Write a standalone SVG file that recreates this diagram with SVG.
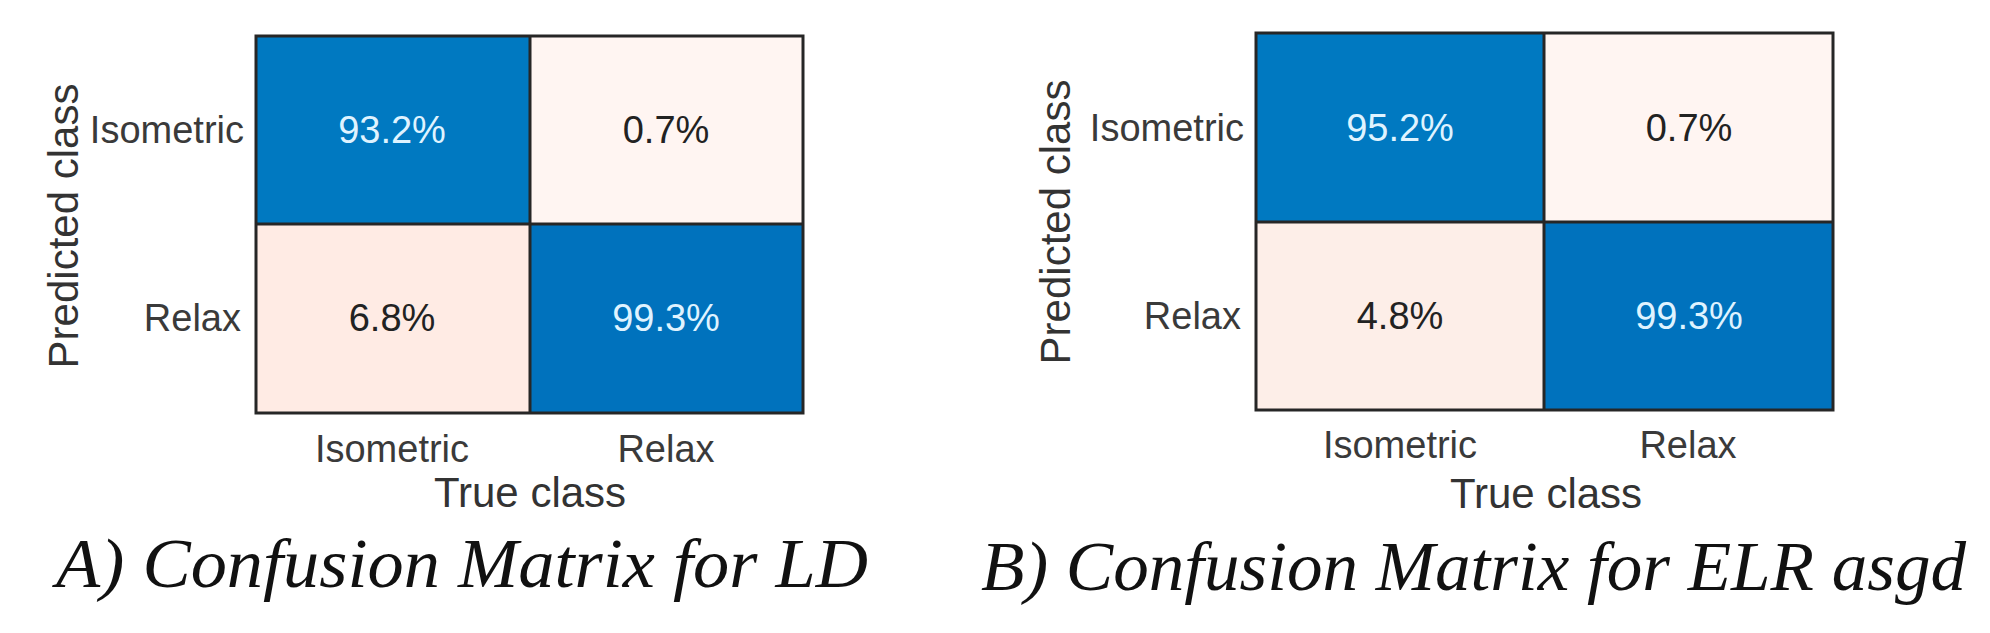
<svg xmlns="http://www.w3.org/2000/svg" width="1990" height="633" viewBox="0 0 1990 633">
<style>
.t{font-family:"Liberation Sans",Arial,sans-serif;fill:#3a3a3a}
.tick{font-size:38px}
.lab{font-size:42px;fill:#333}
.cv{font-family:"Liberation Sans",Arial,sans-serif;font-size:38px;text-anchor:middle}
.w{fill:#dff3ff}
.k{fill:#222}
.ttl{font-family:"Liberation Serif","Times New Roman",serif;font-style:italic;font-size:70px;fill:#111}
.grid{fill:none;stroke:#262626;stroke-width:3}
</style>
<g id="panelA">
<rect x="256" y="36" width="274" height="188" fill="#0079C1"/>
<rect x="530" y="36" width="273" height="188" fill="#FFF5F2"/>
<rect x="256" y="224" width="274" height="189" fill="#FFEBE4"/>
<rect x="530" y="224" width="273" height="189" fill="#0072BD"/>
<rect class="grid" x="256" y="36" width="547" height="377"/>
<line class="grid" x1="530" y1="36" x2="530" y2="413"/>
<line class="grid" x1="256" y1="224" x2="803" y2="224"/>
<text class="cv w" x="392" y="143">93.2%</text>
<text class="cv k" x="666" y="143">0.7%</text>
<text class="cv k" x="392" y="331">6.8%</text>
<text class="cv w" x="666" y="331">99.3%</text>
<text class="t tick" x="244" y="143" text-anchor="end">Isometric</text>
<text class="t tick" x="241" y="331" text-anchor="end">Relax</text>
<text class="t tick" x="392" y="462" text-anchor="middle">Isometric</text>
<text class="t tick" x="666" y="462" text-anchor="middle">Relax</text>
<text class="t lab" x="530" y="507" text-anchor="middle">True class</text>
<text class="t lab" transform="translate(78,226) rotate(-90)" text-anchor="middle">Predicted class</text>
<text class="ttl" x="56" y="587" textLength="812" lengthAdjust="spacingAndGlyphs">A) Confusion Matrix for LD</text>
</g>
<g id="panelB">
<rect x="1256" y="33" width="288" height="189" fill="#0079C1"/>
<rect x="1544" y="33" width="289" height="189" fill="#FFF5F2"/>
<rect x="1256" y="222" width="288" height="188" fill="#FDEEE8"/>
<rect x="1544" y="222" width="289" height="188" fill="#0072BD"/>
<rect class="grid" x="1256" y="33" width="577" height="377"/>
<line class="grid" x1="1544" y1="33" x2="1544" y2="410"/>
<line class="grid" x1="1256" y1="222" x2="1833" y2="222"/>
<text class="cv w" x="1400" y="141">95.2%</text>
<text class="cv k" x="1689" y="141">0.7%</text>
<text class="cv k" x="1400" y="329">4.8%</text>
<text class="cv w" x="1689" y="329">99.3%</text>
<text class="t tick" x="1244" y="141" text-anchor="end">Isometric</text>
<text class="t tick" x="1241" y="329" text-anchor="end">Relax</text>
<text class="t tick" x="1400" y="458" text-anchor="middle">Isometric</text>
<text class="t tick" x="1688" y="458" text-anchor="middle">Relax</text>
<text class="t lab" x="1546" y="508" text-anchor="middle">True class</text>
<text class="t lab" transform="translate(1070,222) rotate(-90)" text-anchor="middle">Predicted class</text>
<text class="ttl" x="981" y="590" textLength="985" lengthAdjust="spacingAndGlyphs">B) Confusion Matrix for ELR asgd</text>
</g>
<g id="connectors"/>
</svg>
